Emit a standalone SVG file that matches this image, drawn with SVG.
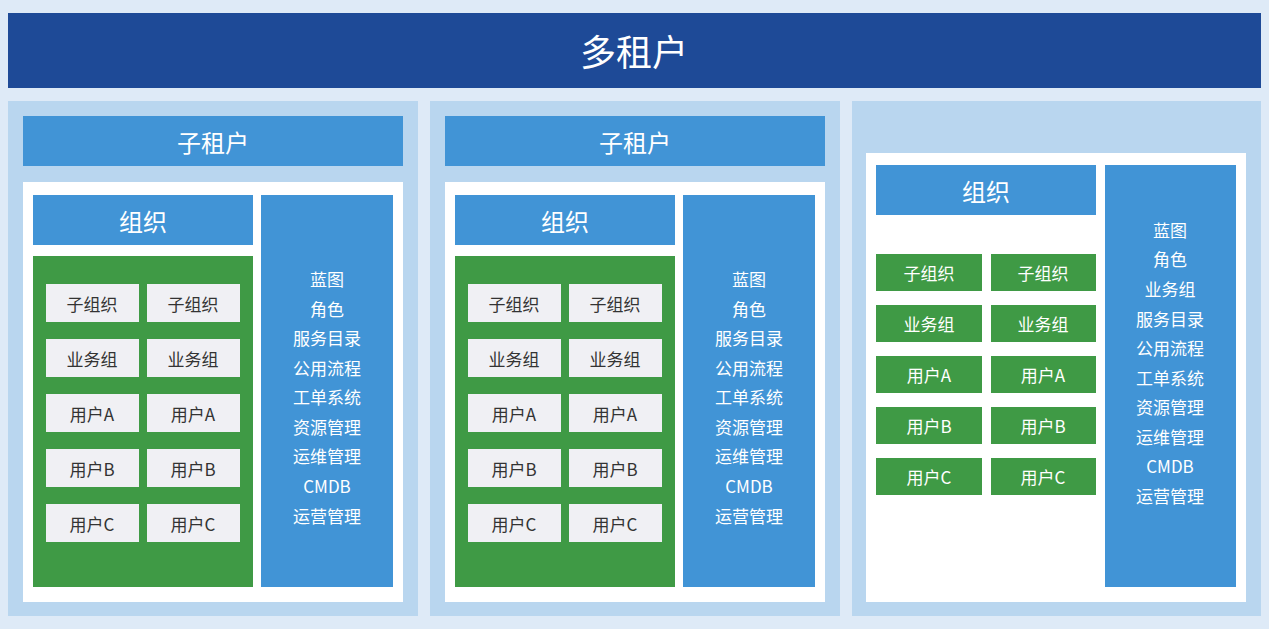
<svg xmlns="http://www.w3.org/2000/svg" width="1269" height="629" viewBox="0 0 1269 629">
<style>
text{font-family:"Noto Sans CJK SC","Liberation Sans",sans-serif;text-anchor:middle;dominant-baseline:central}
.w{fill:#fff}.k{fill:#333}
.bl{fill:#4194d6}.gr{fill:#3f9a45}.pn{fill:#b9d6ef}.cl{fill:#f0f0f4}
.t1{font-size:36px}.t2{font-size:24px}.t3{font-size:17px}
</style>
<rect width="1269" height="629" fill="#deeaf7"/>
<g id="top"><rect x="8" y="13" width="1253" height="75" fill="#1e4a97"/><text class="w t1" x="634" y="50">多租户</text></g>
<defs>
<g id="sub">
<rect class="pn" x="0" y="0" width="410" height="515"/>
<rect class="bl" x="15" y="15" width="380" height="50"/><text class="w t2" x="205" y="40">子租户</text>
<rect fill="#fff" x="15" y="81" width="380" height="420"/>
<rect class="bl" x="25" y="94" width="220" height="50"/><text class="w t2" x="135" y="119">组织</text>
<rect class="gr" x="25" y="155" width="220" height="331"/>
<rect class="cl" x="38" y="183" width="93" height="38"/><rect class="cl" x="139" y="183" width="93" height="38"/>
<rect class="cl" x="38" y="238" width="93" height="38"/><rect class="cl" x="139" y="238" width="93" height="38"/>
<rect class="cl" x="38" y="293" width="93" height="38"/><rect class="cl" x="139" y="293" width="93" height="38"/>
<rect class="cl" x="38" y="348" width="93" height="38"/><rect class="cl" x="139" y="348" width="93" height="38"/>
<rect class="cl" x="38" y="403" width="93" height="38"/><rect class="cl" x="139" y="403" width="93" height="38"/>
<g class="k t3">
<text x="84" y="202">子组织</text><text x="185" y="202">子组织</text>
<text x="84" y="257">业务组</text><text x="185" y="257">业务组</text>
<text x="84" y="312">用户A</text><text x="185" y="312">用户A</text>
<text x="84" y="367">用户B</text><text x="185" y="367">用户B</text>
<text x="84" y="422">用户C</text><text x="185" y="422">用户C</text>
</g>
<rect class="bl" x="253" y="94" width="132" height="392"/>
<g class="w t3">
<text x="319" y="177">蓝图</text><text x="319" y="207">角色</text><text x="319" y="236">服务目录</text>
<text x="319" y="266">公用流程</text><text x="319" y="295">工单系统</text><text x="319" y="325">资源管理</text>
<text x="319" y="354">运维管理</text><text x="319" y="384">CMDB</text><text x="319" y="414">运营管理</text>
</g>
</g>
</defs>
<g id="sub1"><use href="#sub" x="8" y="101"/></g>
<g id="sub2"><use href="#sub" x="430" y="101"/></g>
<g id="sub3">
<rect class="pn" x="852" y="101" width="409" height="515"/>
<rect fill="#fff" x="866" y="153" width="380" height="449"/>
<rect class="bl" x="876" y="165" width="220" height="50"/><text class="w t2" x="986" y="190">组织</text>
<g class="gr">
<rect x="876" y="254" width="106" height="37"/><rect x="991" y="254" width="105" height="37"/>
<rect x="876" y="305" width="106" height="37"/><rect x="991" y="305" width="105" height="37"/>
<rect x="876" y="356" width="106" height="37"/><rect x="991" y="356" width="105" height="37"/>
<rect x="876" y="407" width="106" height="37"/><rect x="991" y="407" width="105" height="37"/>
<rect x="876" y="458" width="106" height="37"/><rect x="991" y="458" width="105" height="37"/>
</g>
<g class="w t3">
<text x="929" y="272">子组织</text><text x="1043" y="272">子组织</text>
<text x="929" y="323">业务组</text><text x="1043" y="323">业务组</text>
<text x="929" y="374">用户A</text><text x="1043" y="374">用户A</text>
<text x="929" y="425">用户B</text><text x="1043" y="425">用户B</text>
<text x="929" y="476">用户C</text><text x="1043" y="476">用户C</text>
</g>
<rect class="bl" x="1105" y="165" width="131" height="422"/>
<g class="w t3">
<text x="1170" y="229">蓝图</text><text x="1170" y="258">角色</text><text x="1170" y="288">业务组</text>
<text x="1170" y="318">服务目录</text><text x="1170" y="347">公用流程</text><text x="1170" y="377">工单系统</text>
<text x="1170" y="406">资源管理</text><text x="1170" y="436">运维管理</text><text x="1170" y="465">CMDB</text><text x="1170" y="495">运营管理</text>
</g>
</g>
<g id="connectors"/>
</svg>
